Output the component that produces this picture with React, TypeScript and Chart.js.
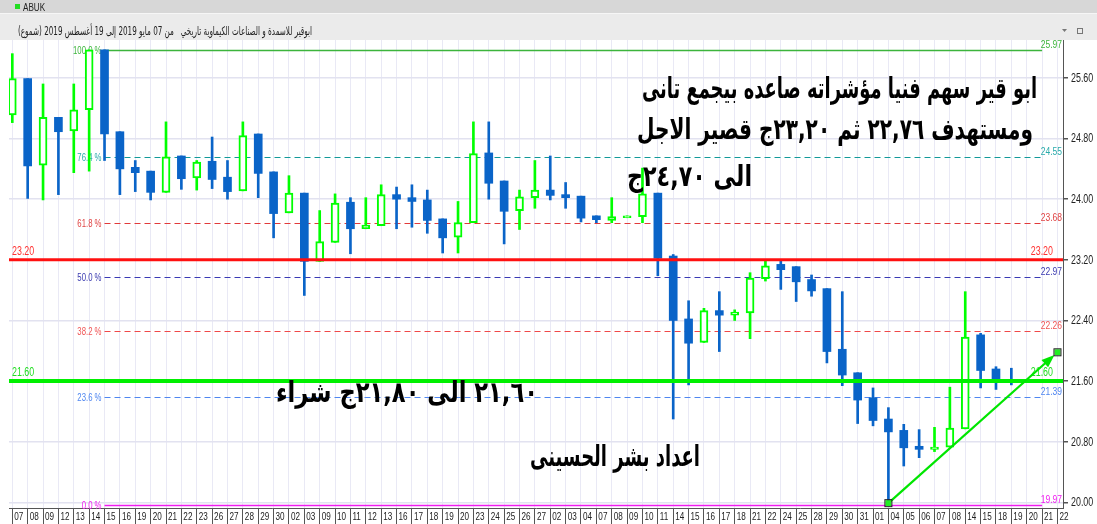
import React, { useEffect, useRef } from 'react';
import { Chart, registerables } from 'chart.js';

Chart.register(...registerables);

// ---- data ----
const xLabels = [
  '07', '08', '09', '12', '13', '14', '15', '16', '19', '20', '21', '22', '23', '26', '27', '28', '29', '30',
  '02', '03', '09', '10', '11', '12', '13', '16', '17', '18', '19', '20', '23', '24', '25', '26', '27',
  '02', '03', '04', '07', '08', '09', '10', '11', '14', '15', '16', '17', '18', '21', '22', '24', '25', '28', '29', '30', '31',
  '01', '04', '05', '06', '07', '08', '14', '15', '18', '19', '20', '21', '22',
];

const opens = [
  25.11, 25.59, 24.45, 25.08, 24.90, 25.18, 25.97, 24.89, 24.42, 24.37,
  24.09, 24.57, 24.28, 24.50, 24.29, 24.11, 24.86, 24.36, 23.82, 24.08,
  23.18, 23.43, 23.96, 23.61, 23.65, 24.06, 24.02, 23.99, 23.74, 23.50,
  23.69, 24.61, 24.24, 23.85, 24.02, 24.12, 24.06, 24.04, 23.78, 23.72,
  23.755, 23.77, 24.08, 23.25, 22.42, 22.11, 22.53, 22.47, 22.50, 22.95,
  23.14, 23.11, 22.94, 22.82, 22.02, 21.71, 21.38, 21.10, 20.95, 20.74,
  20.70, 20.73, 20.97, 22.21, 21.76, 21.61,
];
const highs = [
  25.92, 25.59, 25.52, 25.08, 25.52, 25.97, 25.97, 24.89, 24.51, 24.37,
  25.02, 24.57, 24.51, 24.82, 24.51, 25.02, 24.86, 24.36, 24.31, 24.08,
  23.85, 24.07, 24.02, 24.02, 24.19, 24.16, 24.19, 24.12, 23.74, 23.97,
  25.02, 25.02, 24.24, 24.12, 24.51, 24.57, 24.22, 24.04, 23.78, 24.02,
  23.78, 24.41, 24.08, 23.27, 22.66, 22.56, 22.78, 22.54, 23.03, 23.19,
  23.19, 23.11, 23.00, 22.82, 22.78, 21.71, 21.51, 21.25, 21.03, 20.96,
  20.99, 21.52, 22.78, 22.23, 21.79, 21.77,
];
const lows = [
  25.01, 24.01, 23.99, 24.06, 24.35, 24.37, 24.51, 24.06, 24.10, 23.99,
  24.09, 24.13, 24.12, 24.14, 24.00, 24.11, 24.02, 23.49, 23.82, 22.73,
  23.18, 23.43, 23.28, 23.61, 23.65, 23.61, 23.63, 23.55, 23.29, 23.29,
  23.69, 24.00, 23.41, 23.60, 23.88, 23.99, 23.88, 23.70, 23.69, 23.69,
  23.755, 23.69, 22.99, 21.10, 21.55, 22.11, 21.99, 22.40, 22.16, 22.92,
  22.81, 22.65, 22.72, 21.84, 21.54, 21.04, 21.01, 19.97, 20.48, 20.59,
  20.67, 20.73, 20.97, 21.51, 21.49, 21.55,
];
const closes = [
  25.59, 24.44, 25.08, 24.89, 25.18, 25.97, 24.86, 24.40, 24.35, 24.09,
  24.56, 24.27, 24.49, 24.26, 24.10, 24.84, 24.34, 23.81, 24.08, 23.18,
  23.44, 23.95, 23.61, 23.66, 24.06, 24.00, 23.97, 23.72, 23.49, 23.69,
  24.60, 24.21, 23.84, 24.03, 24.12, 24.05, 24.02, 23.75, 23.73, 23.77,
  23.78, 24.07, 23.22, 22.40, 22.10, 22.53, 22.47, 22.51, 22.96, 23.12,
  23.07, 22.91, 22.79, 21.99, 21.68, 21.35, 21.08, 20.93, 20.72, 20.70,
  20.73, 20.98, 22.18, 21.74, 21.62, 21.60,
];

const yTicks = [20.0, 20.8, 21.6, 22.4, 23.2, 24.0, 24.8, 25.6];

const fibLevels = [25.97, 24.55, 23.68, 22.97, 22.26, 21.39, 19.97];
const fibNames = ['100.0 %', '76.4 %', '61.8 %', '50.0 %', '38.2 %', '23.6 %', '0.0 %'];
const fibLineColors = ['#3cb43c', '#129a9a', '#e23a3a', '#3a3ab4', '#f04848', '#4f86f0', '#f01cf0'];
const fibTextColors = ['#3cb43c', '#2aabab', '#e04444', '#3a3ab0', '#f05555', '#4f86f0', '#f01cf0'];
const fibStartIndex = 6;
const fibEndIndex = 67;

const resistanceLevel = 23.2;
const supportLevel = 21.6;
const trendStart = [57, 19.99];
const trendEnd = [68, 21.98];

const headerTitle = 'ابوقير للاسمدة و الصناعات الكيماوية تاريخي   من 07 مايو 2019 إلى 19 أغسطس 2019 (شموع)';
const tickerName = 'ABUK';
const noteLine1 = 'ابو قير سهم فنيا مؤشراته صاعده بيجمع تانى';
const noteLine2 = 'ومستهدف ٢٢,٧٦ ثم ٢٣,٢٠ج قصير الاجل';
const noteLine3 = 'الى ٢٤,٧٠ج';
const noteBuy = '٢١,٦٠ الى ٢١,٨٠ج شراء';
const noteAuthor = 'اعداد بشر الحسينى';

// ---- styles ----
const GREEN = '#00ff00';
const BLUE = '#0a64c8';
const SANS = "'Liberation Sans', Arial, sans-serif";
const ARABIC = "'DejaVu Sans', sans-serif";
const NARROW_SCALE = 0.74;

function fitText(ctx: any, text: string, left: number, baseline: number, width: number, font: string, color: string, rtl = true) {
  ctx.save();
  ctx.font = font;
  ctx.direction = rtl ? 'rtl' : 'ltr';
  ctx.textAlign = 'left';
  ctx.textBaseline = 'alphabetic';
  ctx.fillStyle = color;
  const w = ctx.measureText(text).width || 1;
  ctx.translate(left, baseline);
  ctx.scale(width / w, 1);
  ctx.fillText(text, 0, 0);
  ctx.restore();
}

function narrowText(ctx: any, text: string, x: number, y: number, align: string, baseline: string, size: number, color: string) {
  ctx.save();
  ctx.font = `${size}px ${SANS}`;
  ctx.textAlign = align;
  ctx.textBaseline = baseline;
  ctx.fillStyle = color;
  ctx.translate(x, y);
  ctx.scale(NARROW_SCALE, 1);
  ctx.fillText(text, 0, 0);
  ctx.restore();
}

const overlayPlugin = {
  id: 'overlay',
  beforeDraw(chart: any) {
    const ctx = chart.ctx;
    ctx.save();
    ctx.fillStyle = '#ffffff';
    ctx.fillRect(0, 0, chart.width, chart.height);
    ctx.fillStyle = '#d7d7d7';
    ctx.fillRect(0, 0, chart.width, 13);
    ctx.fillStyle = '#f6f6f6';
    ctx.fillRect(0, 13, chart.width, 1);
    ctx.fillStyle = '#ebebeb';
    ctx.fillRect(0, 14, chart.width, 26);
    ctx.fillStyle = '#22dd22';
    ctx.fillRect(15, 4, 5, 5);
    ctx.fillStyle = '#777';
    ctx.beginPath();
    ctx.moveTo(1062, 29); ctx.lineTo(1067, 29); ctx.lineTo(1064.5, 32); ctx.closePath();
    ctx.fill();
    ctx.strokeStyle = '#777';
    ctx.lineWidth = 1;
    ctx.strokeRect(1077.5, 28.5, 5, 5);
    ctx.restore();
    narrowText(ctx, tickerName, 23, 8, 'left', 'middle', 11, '#222');
    fitText(ctx, headerTitle, 18, 35, 294, `12px ${ARABIC}`, '#222');
  },
  beforeDatasetsDraw(chart: any) {
    const ctx = chart.ctx;
    const xs = chart.scales.x;
    const ys = chart.scales.y;
    const area = chart.chartArea;
    const x0 = xs.getPixelForValue(fibStartIndex);
    const x1 = xs.getPixelForValue(fibEndIndex);
    ctx.save();
    fibLevels.forEach((lv, k) => {
      const py = Math.round(ys.getPixelForValue(lv)) + 0.5;
      const solid = k === 0 || k === fibLevels.length - 1;
      ctx.strokeStyle = fibLineColors[k];
      ctx.lineWidth = solid ? 1.5 : 1.2;
      ctx.setLineDash(solid ? [] : [6, 4]);
      ctx.beginPath();
      ctx.moveTo(x0, py);
      ctx.lineTo(x1, py);
      ctx.stroke();
      ctx.setLineDash([]);
      narrowText(ctx, fibNames[k], x0 - 3, py + 0.5, 'right', 'middle', 10.5, fibTextColors[k]);
      narrowText(ctx, lv.toFixed(2), area.right - 1, py + 0.5, 'right', 'bottom', 11.5, fibTextColors[k]);
    });
    ctx.restore();
  },
  afterDatasetsDraw(chart: any) {
    const ctx = chart.ctx;
    const xs = chart.scales.x;
    const ys = chart.scales.y;
    const area = chart.chartArea;
    ctx.save();
    // resistance / support lines
    const levels: [number, string, number, string][] = [
      [resistanceLevel, '#ff1010', 3, '#ff3030'],
      [supportLevel, '#00f000', 4, '#22dd22'],
    ];
    levels.forEach(([lv, col, lw, tcol]) => {
      const py = ys.getPixelForValue(lv);
      ctx.strokeStyle = col;
      ctx.lineWidth = lw;
      ctx.beginPath();
      ctx.moveTo(area.left, py);
      ctx.lineTo(area.right, py);
      ctx.stroke();
      narrowText(ctx, lv.toFixed(2), area.left + 3, py - 2, 'left', 'bottom', 12, tcol);
      narrowText(ctx, lv.toFixed(2), area.right - 10, py - 2, 'right', 'bottom', 12, tcol);
    });
    // trend line with arrow
    const ax = xs.getPixelForValue(trendStart[0]);
    const ay = ys.getPixelForValue(trendStart[1]);
    const bx = xs.getPixelForValue(trendEnd[0]);
    const by = ys.getPixelForValue(trendEnd[1]);
    const ang = Math.atan2(by - ay, bx - ax);
    const tipX = bx - Math.cos(ang) * 4;
    const tipY = by - Math.sin(ang) * 4;
    ctx.strokeStyle = '#00e600';
    ctx.fillStyle = '#00e600';
    ctx.lineWidth = 2.2;
    ctx.beginPath();
    ctx.moveTo(ax, ay);
    ctx.lineTo(tipX - Math.cos(ang) * 8, tipY - Math.sin(ang) * 8);
    ctx.stroke();
    const len = 13;
    const half = 5;
    const baseX = tipX - Math.cos(ang) * len;
    const baseY = tipY - Math.sin(ang) * len;
    ctx.beginPath();
    ctx.moveTo(tipX, tipY);
    ctx.lineTo(baseX - Math.sin(ang) * half, baseY + Math.cos(ang) * half);
    ctx.lineTo(baseX + Math.sin(ang) * half, baseY - Math.cos(ang) * half);
    ctx.closePath();
    ctx.fill();
    [[ax, ay], [bx, by]].forEach(([px, py]) => {
      ctx.fillStyle = '#22ee22';
      ctx.fillRect(px - 3, py - 3, 6, 6);
      ctx.strokeStyle = '#222';
      ctx.lineWidth = 1;
      ctx.strokeRect(px - 3.5, py - 3.5, 7, 7);
    });
    ctx.restore();
    // Arabic notes
    const bold = `bold 29px ${ARABIC}`;
    fitText(ctx, noteLine1, 642, 98, 395, bold, '#000');
    fitText(ctx, noteLine2, 637, 139, 396, bold, '#000');
    fitText(ctx, noteLine3, 627, 186, 125, bold, '#000');
    fitText(ctx, noteBuy, 276, 402, 262, bold, '#000');
    fitText(ctx, noteAuthor, 530, 466, 170, bold, '#000');
  },
  afterDraw(chart: any) {
    const ctx = chart.ctx;
    const xs = chart.scales.x;
    const ys = chart.scales.y;
    // axis tick labels, placed by the scales
    xs.ticks.forEach((t: any) => {
      const px = xs.getPixelForValue(t.value);
      narrowText(ctx, xLabels[t.value] ?? '', px + 2, ys.bottom + 9, 'left', 'middle', 11, '#222');
    });
    ys.ticks.forEach((t: any) => {
      const py = ys.getPixelForValue(t.value);
      narrowText(ctx, Number(t.value).toFixed(2), xs.right + 8, py + 0.5, 'left', 'middle', 12, '#222');
    });
  },
};

export default function App() {
  const ref = useRef<HTMLCanvasElement | null>(null);
  useEffect(() => {
    if (!ref.current) return;
    const idx = opens.map((_, i) => i);
    const up = idx.map((i) => closes[i] >= opens[i]);
    const wickData = idx.map((i) => ({ x: i, y: [lows[i], highs[i]] }));
    const bodyData = idx.map((i) => ({ x: i, y: [opens[i], closes[i]] }));
    const chart = new Chart(ref.current, {
      type: 'bar',
      data: {
        datasets: [
          {
            label: 'wick',
            data: wickData as any,
            backgroundColor: up.map((u) => (u ? GREEN : BLUE)),
            borderWidth: 0,
            barThickness: 2,
            grouped: false,
            order: 2,
          } as any,
          {
            label: 'body',
            data: bodyData as any,
            backgroundColor: up.map((u) => (u ? '#ffffff' : BLUE)),
            borderColor: up.map((u) => (u ? GREEN : BLUE)),
            borderWidth: up.map((u) => (u ? 2 : 0)),
            borderSkipped: false,
            barThickness: 8,
            grouped: false,
            order: 1,
          } as any,
        ],
      },
      options: {
        animation: false,
        responsive: false,
        maintainAspectRatio: false,
        layout: { padding: { top: 40, left: 9, right: 0, bottom: 0 } },
        plugins: { legend: { display: false }, tooltip: { enabled: false } },
        scales: {
          x: {
            type: 'linear',
            min: -0.215,
            max: 68.36,
            offset: false,
            afterBuildTicks: (s: any) => {
              s.ticks = xLabels.map((_, i) => ({ value: i }));
            },
            afterFit: (s: any) => {
              s.height = 16;
            },
            ticks: { display: false, autoSkip: false, maxRotation: 0, minRotation: 0 },
            grid: { color: '#e9e9f5', tickColor: '#555', tickLength: 16, lineWidth: 1, offset: false },
            border: { color: '#555', width: 1 },
          } as any,
          y: {
            position: 'right',
            min: 19.926,
            max: 26.1,
            afterBuildTicks: (s: any) => {
              s.ticks = yTicks.map((v) => ({ value: v }));
            },
            afterFit: (s: any) => {
              s.width = 34;
            },
            ticks: { display: false },
            grid: { color: '#e2e2f0', tickColor: '#555', tickLength: 5, lineWidth: 1.5 },
            border: { color: '#555', width: 1 },
          } as any,
        },
      },
      plugins: [overlayPlugin],
    });
    return () => chart.destroy();
  }, []);
  return (
    <div style={{ position: 'fixed', left: 0, top: 0, width: 1097, height: 524, background: '#fff' }}>
      <canvas ref={ref} width={1097} height={524} style={{ display: 'block', width: 1097, height: 524 }} />
    </div>
  );
}
